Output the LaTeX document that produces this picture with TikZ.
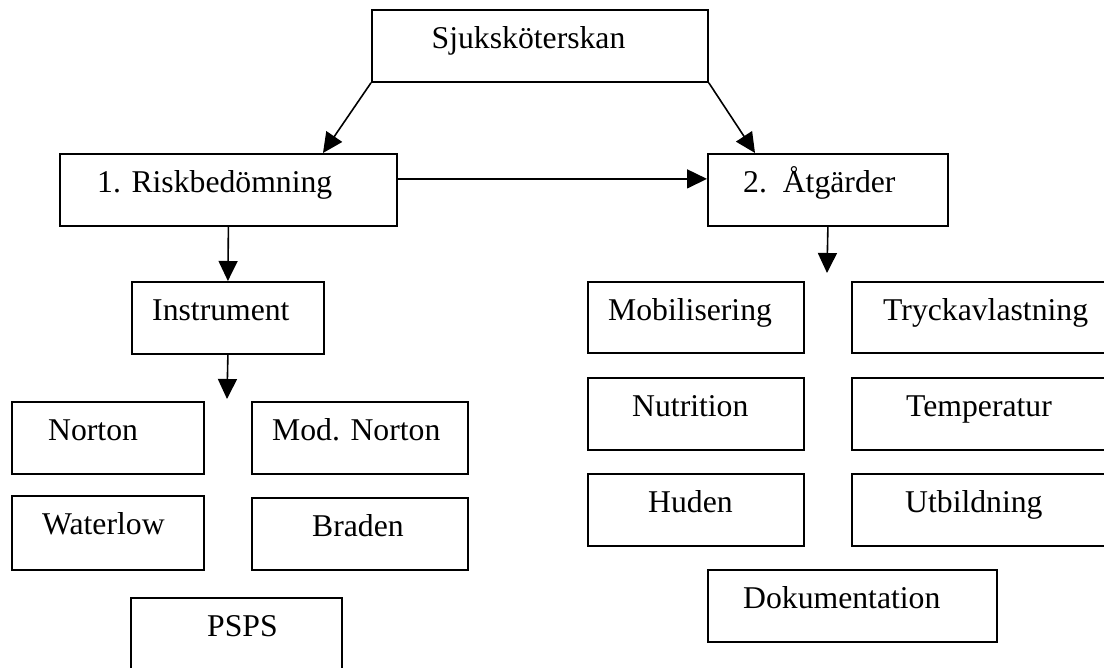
\documentclass[tikz,border=0pt]{standalone}
\usepackage{fontspec}
\setmainfont{Liberation Serif}
\usetikzlibrary{arrows.meta}
\tikzset{
  box/.style={draw, line width=1.8pt, inner sep=0pt, anchor=north west},
  lbl/.style={anchor=base west, inner sep=0pt, font=\fontsize{31.7}{36}\selectfont},
  conn/.style={line width=1.6pt, -{Triangle[length=20pt,width=19pt]}}
}
\newcommand\mkbox[7]{%
  \node[box, minimum width={#4-#2}, minimum height={#5-#3}] (#1) at (#2,#3) {};
  \node[lbl] (#1-l) at (#6,#3+39.5) {#7};}
\begin{document}
\begin{tikzpicture}[x=1pt,y=-1pt]
\clip (0,0) rectangle (1104,668);
\fill[white] (0,0) rectangle (1104,668);
\mkbox{sjuk}{371}{9}{707}{81}{431.5}{Sjuksköterskan}
\mkbox{risk}{59}{153}{396}{225}{97}{1. Riskbedömning}
\mkbox{atg}{707}{153}{947}{225}{743}{2.\ \ Åtgärder}
\mkbox{instr}{131}{281}{323}{353}{152}{Instrument}
\mkbox{norton}{11}{401}{203}{473}{48}{Norton}
\mkbox{modn}{251}{401}{467}{473}{272}{Mod. Norton}
\mkbox{water}{11}{495}{203}{569}{42}{Waterlow}
\mkbox{braden}{251}{497}{467}{569}{312}{Braden}
\mkbox{psps}{130}{597}{341}{700}{207}{PSPS}
\mkbox{mob}{587}{281}{803}{352}{608}{Mobilisering}
\mkbox{tryck}{851}{281}{1130}{352}{883}{Tryckavlastning}
\mkbox{nutr}{587}{377}{803}{449}{632}{Nutrition}
\mkbox{temp}{851}{377}{1130}{449}{906}{Temperatur}
\mkbox{huden}{587}{473}{803}{545}{648}{Huden}
\mkbox{utb}{851}{473}{1130}{545}{905}{Utbildning}
\mkbox{dok}{707}{569}{996}{641}{743}{Dokumentation}
\coordinate (instrtip) at (227,399);
\coordinate (atgtip) at (827,273);
\draw[conn] (sjuk.south west) -- ([xshift=264pt]risk.north west);
\draw[conn] (sjuk.south east) -- ([xshift=48pt]atg.north west);
\draw[conn] ([yshift=11pt]risk.east) -- ([yshift=11pt]atg.west);
\draw[conn] (risk.south) -- (instr.north);
\draw[conn] (instr.south) -- (instrtip);
\draw[conn] (atg.south) -- (atgtip);
\end{tikzpicture}
\end{document}
